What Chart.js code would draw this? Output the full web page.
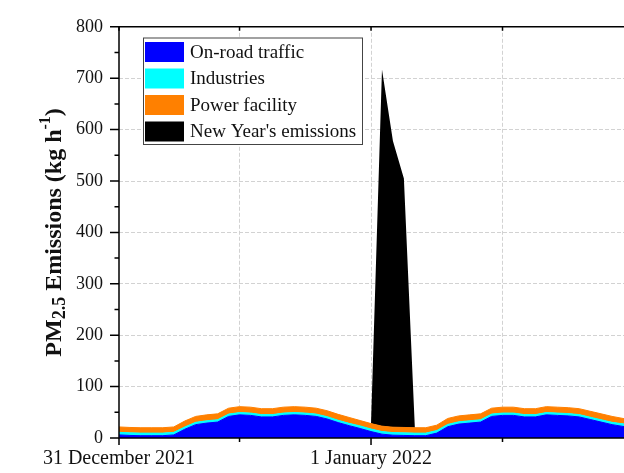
<!DOCTYPE html>
<html>
<head>
<meta charset="utf-8">
<script src="https://cdn.jsdelivr.net/npm/chart.js@4"></script>
<style>
  html, body { margin: 0; padding: 0; background: #ffffff; overflow: hidden; }
  #wrap { width: 624px; height: 473px; overflow: hidden; position: relative; }
  canvas { display: block; }
</style>
</head>
<body>
<div id="wrap"><canvas id="chart" width="660" height="473"></canvas></div>
<script>
// Hour of the period (hour 1 = first hour of 31 December 2021)
const hours = [1, 2, 3, 4, 5, 6, 7, 8, 9, 10, 11, 12, 13, 14, 15, 16, 17, 18, 19, 20, 21, 22, 23, 24,
               25, 26, 27, 28, 29, 30, 31, 32, 33, 34, 35, 36, 37, 38, 39, 40, 41, 42, 43, 44, 45, 46, 47, 48];

// PM2.5 emissions by source, kg/h
const onRoadTraffic = [6, 5, 4.5, 4.5, 4.5, 6, 17, 26, 29, 31, 42, 45, 44, 41, 41, 44, 45, 44, 42, 37, 30, 24, 18.5, 12.5,
                       7.5, 5.5, 5, 4.5, 4.5, 9.5, 22, 27, 29, 31, 42, 44, 44, 41, 41, 45, 44, 43, 41, 36, 31, 26, 22.5, 19.5];
const industries    = [5, 5, 5, 5, 5, 5, 4.5, 4.5, 4.5, 4.5, 4.5, 4.5, 4.5, 4.5, 4.5, 4.5, 4.5, 4.5, 4.5, 4.5, 4.5, 4.5, 5, 5,
                       5, 5, 5, 5, 5, 5, 4.5, 4.5, 4.5, 4.5, 4.5, 4.5, 4.5, 4.5, 4.5, 4.5, 4.5, 4.5, 4.5, 4.5, 4.5, 4.5, 5, 5];
const powerFacility = [10.5, 10.5, 10.5, 10.5, 10.5, 10.5, 11.5, 11.5, 11.5, 11.5, 11.5, 11.5, 11.5, 11.5, 11.5, 11.5, 11.5, 11.5, 11.5, 11.5, 11.5, 11.5, 10.5, 10.5,
                       10.5, 10.5, 10.5, 10.5, 10.5, 10.5, 11.5, 11.5, 11.5, 11.5, 11.5, 11.5, 11.5, 11.5, 11.5, 11.5, 11.5, 11.5, 11.5, 11.5, 11.5, 11.5, 10.5, 10.5];
const newYearEmissions = [0, 0, 0, 0, 0, 0, 0, 0, 0, 0, 0, 0, 0, 0, 0, 0, 0, 0, 0, 0, 0, 0, 0, 0,
                          694, 557, 484.5, 0, 0, 0, 0, 0, 0, 0, 0, 0, 0, 0, 0, 0, 0, 0, 0, 0, 0, 0, 0, 0];

const seriesNames  = ['On-road traffic', 'Industries', 'Power facility', "New Year's emissions"];
const seriesColors = ['#0000ff', '#00ffff', '#ff8000', '#000000'];

// Axis ticks
const yTickValues = [0, 100, 200, 300, 400, 500, 600, 700, 800];
const xTickHours  = [1, 12, 24, 36];
const xTickLabels = ['31 December 2021', '', '1 January 2022', ''];

const SERIF = '"Liberation Serif", "Times New Roman", serif';
const GRID_COLOR = '#d2d2d2';

function toPoints(values) {
  return hours.map((h, i) => ({ x: h, y: values[i] }));
}

const seriesValues = [onRoadTraffic, industries, powerFacility, newYearEmissions];
const datasets = seriesValues.map((vals, i) => ({
  label: seriesNames[i],
  data: toPoints(vals),
  backgroundColor: seriesColors[i],
  borderColor: i === 3 ? 'rgba(0,0,0,0)' : seriesColors[i],
  borderWidth: i === 3 ? 0 : 1,
  fill: i === 0 ? 'origin' : '-1',
  pointRadius: 0,
  tension: 0
}));

// Frame around the plot plus inner/outer tick marks
const frameTicks = {
  id: 'frameTicks',
  afterDatasetsDraw(chart) {
    const { ctx, chartArea: a, scales: { x, y } } = chart;
    ctx.save();
    ctx.strokeStyle = '#000';
    ctx.lineWidth = 1.5;
    ctx.beginPath();
    ctx.rect(a.left, a.top, a.right - a.left, a.bottom - a.top);
    ctx.stroke();
    ctx.beginPath();
    // y ticks: major every 100, minor every 50, pointing outwards
    for (let v = 0; v <= 800; v += 50) {
      const py = y.getPixelForValue(v);
      const len = (v % 100 === 0) ? 9 : 4.5;
      ctx.moveTo(a.left - len, py);
      ctx.lineTo(a.left, py);
    }
    // x ticks: labelled ones longer; short inward ticks on the top edge
    xTickHours.forEach((h, i) => {
      const px = x.getPixelForValue(h);
      const len = xTickLabels[i] ? 7 : 4;
      ctx.moveTo(px, a.bottom);
      ctx.lineTo(px, a.bottom + len);
      ctx.moveTo(px, a.top);
      ctx.lineTo(px, a.top + 4);
    });
    ctx.stroke();
    ctx.restore();
  }
};

// Boxed legend inside the plot area
const boxLegend = {
  id: 'boxLegend',
  afterDraw(chart) {
    const { ctx } = chart;
    const bx = 143, by = 37.5, bw = 219, bh = 106.5;
    ctx.save();
    ctx.fillStyle = '#ffffff';
    ctx.fillRect(bx, by, bw, bh);
    ctx.strokeStyle = '#444';
    ctx.lineWidth = 1;
    ctx.strokeRect(bx + 0.5, by + 0.5, bw, bh);
    ctx.font = '19px ' + SERIF;
    ctx.textBaseline = 'middle';
    ctx.textAlign = 'left';
    chart.data.datasets.forEach((ds, i) => {
      const top = 42 + i * 26.5;
      ctx.fillStyle = ds.backgroundColor;
      ctx.fillRect(145, top, 39, 20);
      ctx.fillStyle = '#111';
      ctx.fillText(ds.label, 190, top + 11);
    });
    ctx.restore();
  }
};

// Rotated y-axis title with subscript and superscript
const yTitle = {
  id: 'yTitle',
  afterDraw(chart) {
    const { ctx, chartArea: a } = chart;
    const parts = [
      { t: 'PM', size: 24, dy: 0 },
      { t: '2.5', size: 18, dy: 4 },
      { t: ' Emissions (kg h', size: 24, dy: 0 },
      { t: '-1', size: 16, dy: -11 },
      { t: ')', size: 24, dy: 0 }
    ];
    ctx.save();
    let total = 0;
    parts.forEach(p => {
      ctx.font = 'bold ' + p.size + 'px ' + SERIF;
      p.w = ctx.measureText(p.t).width;
      total += p.w;
    });
    ctx.translate(61, (a.top + a.bottom) / 2);
    ctx.rotate(-Math.PI / 2);
    ctx.fillStyle = '#111';
    ctx.textBaseline = 'alphabetic';
    ctx.textAlign = 'left';
    let cx = -total / 2;
    parts.forEach(p => {
      ctx.font = 'bold ' + p.size + 'px ' + SERIF;
      ctx.fillText(p.t, cx, p.dy);
      cx += p.w;
    });
    ctx.restore();
  }
};

new Chart(document.getElementById('chart'), {
  type: 'line',
  data: { datasets },
  options: {
    responsive: false,
    animation: false,
    devicePixelRatio: 1,
    layout: { padding: { left: 0, top: 22, right: 26, bottom: 0 } },
    plugins: {
      legend: { display: false },
      tooltip: { enabled: false },
      filler: { propagate: false }
    },
    elements: { point: { radius: 0 }, line: { tension: 0 } },
    scales: {
      x: {
        type: 'linear',
        min: 1,
        max: 48,
        afterBuildTicks: s => { s.ticks = xTickHours.map(v => ({ value: v })); },
        afterFit: s => { s.height = 35; },
        ticks: {
          autoSkip: false,
          maxRotation: 0,
          padding: 9,
          color: '#111',
          font: { family: SERIF, size: 20 },
          callback: v => xTickLabels[xTickHours.indexOf(v)] || ''
        },
        grid: {
          drawTicks: false,
          lineWidth: 1,
          color: c => (c.tick && c.tick.value === 1) ? 'rgba(0,0,0,0)' : GRID_COLOR
        },
        border: { display: false, dash: [4, 2] }
      },
      y: {
        min: 0,
        max: 800,
        stacked: true,
        afterBuildTicks: s => { s.ticks = yTickValues.map(v => ({ value: v })); },
        afterFit: s => { s.width = 119; },
        ticks: {
          padding: 16,
          color: '#111',
          font: { family: SERIF, size: 18 }
        },
        grid: {
          drawTicks: false,
          lineWidth: 1,
          color: c => (c.tick && (c.tick.value === 0 || c.tick.value === 800)) ? 'rgba(0,0,0,0)' : GRID_COLOR
        },
        border: { display: false, dash: [4, 2] }
      }
    }
  },
  plugins: [frameTicks, boxLegend, yTitle]
});
</script>
</body>
</html>
